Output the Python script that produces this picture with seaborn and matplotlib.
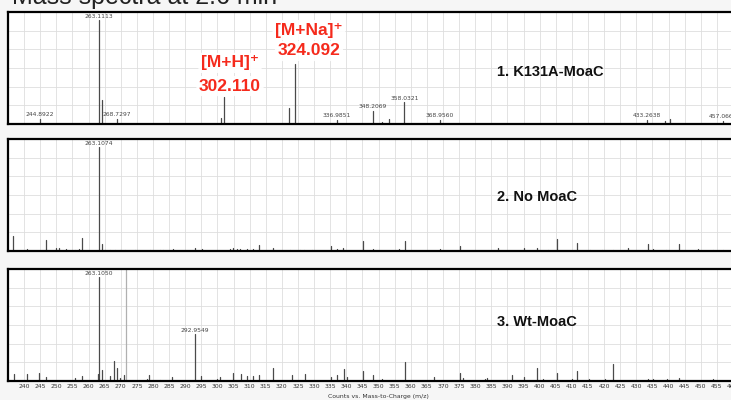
import numpy as np
import pandas as pd
import matplotlib
matplotlib.use("Agg")
import matplotlib.pyplot as plt
import seaborn as sns

# ---- spectra (relative intensity, base peak = 1.0) ----
k131a_mz = [244.8922, 263.1113, 264.11, 268.7297, 301.0, 302.110, 322.1, 324.092,
            336.9851, 348.2069, 351.0, 353.3, 358.0321, 368.9560, 433.2638,
            438.9, 440.5, 457.0661]
k131a_int = [0.05, 1.0, 0.23, 0.05, 0.06, 0.26, 0.15, 0.58,
             0.04, 0.13, 0.02, 0.05, 0.21, 0.04, 0.04,
             0.03, 0.05, 0.03]
k131a_labels = ["244.8922", "263.1113", "268.7297", "336.9851", "348.2069",
                "358.0321", "368.9560", "433.2638", "457.0661"]

nomoac_mz = [236.6, 240.8, 246.8, 249.9, 250.7, 252.9, 254.8, 255.8, 256.9, 258.0,
             263.1074, 264.1, 265.1, 266.7, 268.2, 269.8, 271.3, 274.4, 279.1,
             282.2, 283.2, 286.1, 293.0, 295.1, 303.9, 304.9, 306.2, 307.0, 309.1,
             311.1, 313.0, 317.2, 322.5, 325.6, 326.9, 329.3, 335.2, 337.0, 339.1,
             345.1, 348.4, 356.2, 358.2, 369.1, 375.3, 387.2, 395.3, 399.1, 402.7,
             405.3, 411.5, 415.6, 419.3, 422.9, 427.3, 433.5, 435.3, 439.2, 443.4,
             449.3, 453.9, 457.0]
nomoac_int = [0.14, 0.02, 0.11, 0.03, 0.03, 0.02, 0.01, 0.01, 0.02, 0.13,
              1.0, 0.07, 0.01, 0.01, 0.01, 0.01, 0.01, 0.01, 0.01,
              0.01, 0.01, 0.02, 0.03, 0.02, 0.02, 0.03, 0.02, 0.02, 0.02,
              0.02, 0.06, 0.03, 0.01, 0.01, 0.01, 0.01, 0.05, 0.02, 0.03,
              0.10, 0.02, 0.02, 0.10, 0.02, 0.05, 0.03, 0.03, 0.03, 0.01,
              0.12, 0.08, 0.01, 0.01, 0.01, 0.03, 0.07, 0.02, 0.01, 0.07,
              0.02, 0.01, 0.01]
nomoac_labels = ["263.1074"]

wt_mz = [236.9, 240.8, 244.7, 246.8, 255.9, 258.0, 262.8, 263.1050, 264.1, 266.7,
         268.0, 268.9, 269.8, 271.0, 278.0, 278.8, 282.2, 286.0, 292.9549, 294.9,
         299.8, 300.8, 304.9, 307.2, 309.1, 311.1, 313.0, 317.2, 323.1, 327.1,
         335.2, 337.2, 339.2, 340.3, 345.1, 348.4, 351.0, 358.2, 367.2, 375.3,
         376.3, 383.0, 383.6, 391.3, 395.3, 399.1, 401.2, 405.3, 410.1, 411.5,
         415.4, 420.3, 422.7, 433.5, 435.3, 439.4, 443.4, 453.7]
wt_int = [0.07, 0.07, 0.08, 0.04, 0.03, 0.05, 0.07, 1.0, 0.11, 0.05,
          0.19, 0.13, 0.03, 0.06, 0.02, 0.06, 0.01, 0.04, 0.45, 0.05,
          0.02, 0.04, 0.08, 0.07, 0.05, 0.05, 0.06, 0.13, 0.06, 0.07,
          0.04, 0.06, 0.12, 0.04, 0.10, 0.06, 0.02, 0.18, 0.04, 0.08,
          0.03, 0.02, 0.03, 0.06, 0.04, 0.13, 0.02, 0.08, 0.02, 0.10,
          0.02, 0.02, 0.16, 0.02, 0.02, 0.02, 0.03, 0.02]
wt_labels = ["263.1050", "292.9549"]
# off-scale trace in the Wt run (runs past the top of the panel)
wt_offscale_mz = [271.6]
wt_offscale_int = [1.3]

panel_titles = ["1. K131A-MoaC", "2. No MoaC", "3. Wt-MoaC"]
ion_labels = ["[M+H]\u207a", "[M+Na]\u207a"]
ion_mz = [302.110, 324.092]

tick_values = list(range(240, 465, 5))
xlabel = "Counts vs. Mass-to-Charge (m/z)"
title = "Mass spectra at 2.6 min"


def stick_frame(mz, inten):
    rows = []
    for i, (m, h) in enumerate(zip(mz, inten)):
        rows.append((i, m, 0.0))
        rows.append((i, m, h))
    return pd.DataFrame(rows, columns=["peak", "mz", "intensity"])


sns.set_theme(style="white")
plt.rcParams["font.family"] = ["Liberation Sans", "DejaVu Sans"]

W, H = 731, 400
fig = plt.figure(figsize=(W / 100, H / 100), dpi=100, facecolor="#f6f6f6")

XMIN, XMAX = 235.0, 462.0
YTOP = 1.08
PX_PER_UNIT = 3.222
left = 8 / W
width = (XMAX - XMIN) * PX_PER_UNIT / W
panel_tops = [12, 139, 269]
panel_h = 112

spectra = [
    (k131a_mz, k131a_int, k131a_labels),
    (nomoac_mz, nomoac_int, nomoac_labels),
    (wt_mz, wt_int, wt_labels),
]
title_y = [0.464, 0.48, 0.527]

axes = []
for k, (mz, inten, labels) in enumerate(spectra):
    top = panel_tops[k]
    ax = fig.add_axes([left, 1 - (top + panel_h) / H, width, panel_h / H])
    ax.set_facecolor("white")
    axes.append(ax)

    if k == 2:
        sns.lineplot(data=stick_frame(wt_offscale_mz, wt_offscale_int), x="mz",
                     y="intensity", units="peak", estimator=None, sort=False,
                     color="#b0b0b0", linewidth=0.9, legend=False, ax=ax)

    sns.lineplot(data=stick_frame(mz, inten), x="mz", y="intensity",
                 units="peak", estimator=None, sort=False,
                 color="#4a4a4a", linewidth=0.9, legend=False, ax=ax)

    # small value labels above annotated peaks
    for lab in labels:
        m = float(lab)
        h = inten[int(np.argmin(np.abs(np.array(mz) - m)))]
        ax.annotate(lab, (m, h), xytext=(0, 1.0), textcoords="offset points",
                    ha="center", va="bottom", fontsize=4.3, color="#444444",
                    family=["DejaVu Sans"], annotation_clip=False)

    ax.set_xlim(XMIN, XMAX)
    ax.set_ylim(0, YTOP)
    ax.set_xticks(tick_values)
    ax.set_yticks(np.linspace(0, YTOP, 7))
    ax.set_yticklabels([])
    ax.grid(True, color="#dedede", linewidth=0.6)
    ax.set_axisbelow(True)
    ax.set_ylabel("")
    ax.set_xlabel("")
    for s in ax.spines.values():
        s.set_visible(True)
        s.set_color("black")
        s.set_linewidth(1.6)
    ax.tick_params(axis="both", length=0)
    if k < 2:
        ax.set_xticklabels([])
    else:
        ax.set_xticklabels([str(t) for t in tick_values], fontsize=4.4,
                           color="#333333", family=["DejaVu Sans"])
        ax.tick_params(axis="x", pad=2)
        ax.set_xlabel(xlabel, fontsize=4.4, color="#333333", labelpad=1,
                      family=["DejaVu Sans"])
        ax.xaxis.set_label_coords((378 - 8) / (width * W), -0.115)

    ax.text(0.669, title_y[k], panel_titles[k], transform=ax.transAxes,
            ha="left", va="center", fontsize=10.5, fontweight="bold",
            color="#111111")

# ion annotations on the K131A spectrum
ax0 = axes[0]
red = "#f52a1c"
box = dict(boxstyle="round,pad=0.15", fc="white", ec="none", alpha=0.9)
ion_text_pos = [(303.9, 0.589, 303.9, 0.366), (328.4, 0.906, 328.4, 0.704)]
for lab, m, (xl, yl, xv, yv) in zip(ion_labels, ion_mz, ion_text_pos):
    ax0.text(xl, yl, lab, ha="center", va="center", fontsize=12.5,
             fontweight="bold", color=red, bbox=box,
             family=["Liberation Sans", "DejaVu Sans"])
    ax0.text(xv, yv, f"{m:.3f}", ha="center", va="center", fontsize=12.5,
             fontweight="bold", color=red, bbox=box)

fig.text(12 / W, 1 - 4 / H, title, ha="left", va="baseline", fontsize=18,
         color="#222222")

fig.savefig("out.png", dpi=100, facecolor=fig.get_facecolor())
